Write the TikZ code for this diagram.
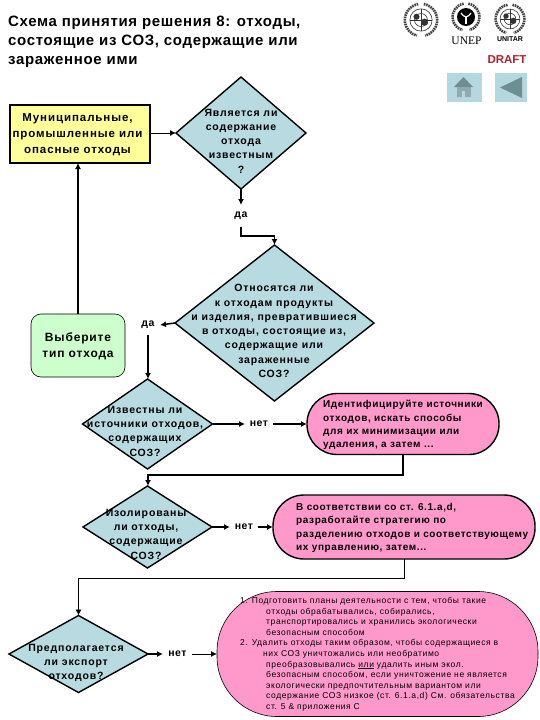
\documentclass[tikz,border=0pt]{standalone}
\usepackage{fontspec}
\setmainfont{Liberation Sans}
\newfontfamily\serifuni{Liberation Serif}
\usetikzlibrary{shapes.geometric,arrows.meta,calc}
\definecolor{decblue}{HTML}{B7DBE0}
\definecolor{boxyellow}{HTML}{FFFF99}
\definecolor{boxgreen}{HTML}{CCFFCC}
\definecolor{boxpink}{HTML}{FF99CC}
\definecolor{btnblue}{HTML}{B5D8DE}
\definecolor{btndark}{HTML}{6E8E94}
\definecolor{draftred}{HTML}{B02030}
\newcommand{\bsp}[3]{\fontsize{#1}{#2}\selectfont\bfseries\addfontfeature{LetterSpace=#3}}
\tikzset{
  decision/.style={diamond,draw=black,fill=decblue,line width=1.4pt,inner sep=0pt,outer sep=0pt},
  txt/.style={inner sep=0pt,align=center,font=\bsp{10.5}{14.3}{8}},
  pinkbox/.style={rectangle,draw=black,fill=boxpink,line width=1.4pt,inner sep=0pt,outer sep=0pt},
  pinktxt/.style={anchor=west,inner sep=0pt,align=left,font=\bsp{10}{13.3}{6}},
  lab/.style={inner sep=0pt,outer sep=0pt,font=\bsp{10.5}{11}{5}},
  conn/.style={line width=1.5pt,-{Latex[length=6pt,width=6pt]}},
  thinconn/.style={line width=0.9pt,-{Latex[length=6pt,width=6pt]}},
  wreath/.style={line width=2.6pt,dash pattern=on 1.6pt off 0.8pt,black!75},
  globe/.style={line width=0.6pt,black!80},
}
\newcommand{\emblem}[3]{%
  \draw[wreath] (#1,#2) ++(-80:#3*0.9) arc[start angle=-80,end angle=75,radius=#3*0.9];
  \draw[wreath] (#1,#2) ++(-100:#3*0.9) arc[start angle=-100,end angle=-255,radius=#3*0.9];
}
\newcommand{\unglobe}[3]{%
  \draw[globe] (#1,#2) circle (#3*0.62);
  \draw[globe] (#1,#2) circle (#3*0.36);
  \draw[globe] (#1-#3*0.62,#2) -- (#1+#3*0.62,#2);
  \draw[globe] (#1,#2-#3*0.62) -- (#1,#2+#3*0.62);
  \fill[black!80] (#1-#3*0.25,#2-#3*0.18) circle (#3*0.17);
  \fill[black!80] (#1+#3*0.2,#2+#3*0.12) circle (#3*0.2);
}
\begin{document}
\begin{tikzpicture}[x=1pt,y=-1pt]
\useasboundingbox (0,0) rectangle (540,720);

% title
\node[anchor=north west,inner sep=0pt,align=left,font=\bsp{15}{19}{4.5}] (title) at (8,15.5)
  {Схема принятия решения 8: отходы,\\состоящие из СОЗ, содержащие или\\зараженное ими};

% logos
\emblem{421}{20}{18}
\unglobe{421}{20}{18}
\emblem{466}{17}{15}
\fill[black] (466,17) circle (9);
\draw[white,line width=1.2pt] (461,13) .. controls (464,18) and (468,18) .. (471,13);
\draw[white,line width=1.2pt] (466,16) -- (466,24);
\node[inner sep=0pt,font=\fontsize{11.5}{12}\selectfont\serifuni] (unep) at (466.5,41) {UNEP};
\emblem{510}{19}{16}
\unglobe{510}{19}{16}
\node[inner sep=0pt,font=\fontsize{7}{7}\selectfont\bfseries] (unitar) at (510,39.5) {UNITAR};
\node[inner sep=0pt,text=draftred,font=\fontsize{11.5}{11}\selectfont\bfseries] (draft) at (507,60) {DRAFT};

% buttons
\fill[btnblue] (447,73) rectangle (482,102);
\fill[btndark] (454,87) -- (463.5,77) -- (473,87) -- cycle;
\fill[btndark!75] (457,87) rectangle (471,97);
\fill[btnblue] (462,91) rectangle (465,97);
\fill[btnblue] (495,73) rectangle (527,102);
\fill[btndark] (500,87.5) -- (522,77) -- (522,98) -- cycle;

% shapes
\node[draw=black,fill=boxyellow,line width=1.4pt,inner sep=0pt,outer sep=0pt,minimum width=140pt,minimum height=58pt] (waste) at (80,134) {};
\node[txt,font=\bsp{11.5}{16}{8}] (wastet) at (77.5,134.5) {Муниципальные,\\промышленные или\\опасные отходы};

\node[decision,minimum width=130pt,minimum height=112pt] (d1) at (241,133) {};
\node[txt] (d1t) at (241,141) {Является ли\\содержание\\отхода\\известным\\?};

\node[decision,minimum width=199pt,minimum height=156pt] (d2) at (274.5,323) {};
\node[txt] (d2t) at (274,331) {Относятся ли\\к отходам продукты\\и изделия, превратившиеся\\в отходы, состоящие из,\\содержащие или\\зараженные\\СОЗ?};

\node[draw=black,fill=boxgreen,line width=0.6pt,rounded corners=10pt,inner sep=0pt,outer sep=0pt,minimum width=94pt,minimum height=63pt] (choose) at (78,345.5) {};
\node[txt,font=\bsp{12}{16}{7}] (chooset) at (78,346.5) {Выберите\\тип отхода};

\node[decision,minimum width=130pt,minimum height=90pt] (d3) at (147.5,424) {};
\node[txt] (d3t) at (145,431) {Известны ли\\источники отходов,\\содержащих\\СОЗ?};

\node[pinkbox,rounded corners=30pt,minimum width=192pt,minimum height=61pt] (p1) at (403,424) {};
\node[pinktxt] (p1t) at (323,425) {Идентифицируйте источники\\отходов, искать способы\\для их минимизации или\\удаления, а затем ...};

\node[decision,minimum width=129pt,minimum height=82pt] (d4) at (147.5,527) {};
\node[txt] (d4t) at (146,534) {Изолированы\\ли отходы,\\содержащие\\СОЗ?};

\node[pinkbox,rounded corners=31pt,minimum width=262pt,minimum height=64pt] (p2) at (404,527) {};
\node[pinktxt] (p2t) at (296,528) {В соответствии со ст. 6.1.a,d,\\разработайте стратегию по\\разделению отходов и соответствующему\\их управлению, затем...};

\node[decision,minimum width=139pt,minimum height=77pt] (d5) at (78.5,654) {};
\node[txt] (d5t) at (76,663) {Предполагается\\ли экспорт\\отходов?};

\node[pinkbox,line width=0.6pt,rounded corners=60pt,minimum width=321pt,minimum height=125pt] (p3) at (377.5,654) {};
\node[anchor=north west,inner sep=0pt,align=left,font=\fontsize{8.5}{10.6}\selectfont\addfontfeature{LetterSpace=7}] (p3t) at (240,597)
 {1. Подготовить планы деятельности с тем, чтобы такие\\
 \hspace*{26pt}отходы обрабатывались, собирались,\\
 \hspace*{26pt}транспортировались и хранились экологически\\
 \hspace*{26pt}безопасным способом\\
 2. Удалить отходы таким образом, чтобы содержащиеся в\\
 \hspace*{23pt}них СОЗ уничтожались  или необратимо\\
 \hspace*{26pt}преобразовывались \underline{или} удалить иным экол.\\
 \hspace*{26pt}безопасным способом, если уничтожение не является\\
 \hspace*{26pt}экологически предпочтительным вариантом или\\
 \hspace*{26pt}содержание СОЗ низкое  (ст. 6.1.a,d) См. обязательства\\
 \hspace*{26pt}ст. 5 \& приложения С};

% labels
\node[lab,minimum width=20pt,minimum height=22pt] (da1) at (241,216) {да};
\node[lab,minimum width=24pt,minimum height=20pt] (da2) at (148,325) {да};
\node[lab,minimum width=28pt,minimum height=14pt] (net3) at (259,424) {нет};
\node[lab,minimum width=28pt,minimum height=14pt] (net4) at (244,527) {нет};
\node[lab,minimum width=29pt,minimum height=14pt] (net5) at (177.5,654) {нет};

\coordinate (c1) at (241,236);
\coordinate (c2) at (148,475);
\coordinate (c3) at (78.5,578);

% connectors
\draw[thinconn] (waste.east |- d1.west) -- (d1.west);
\draw[conn] (d1.south) -- (da1.north);
\draw[conn] (da1.south) -- (c1) -| (d2.north);
\draw[conn] (d2.west) -- (da2.east);
\draw[conn] (da2.south) -- (da2.south |- d3.north);
\draw[conn] (choose.north) -- (choose.north |- waste.south);
\draw[conn] (d3.east) -- (net3.west);
\draw[conn] (net3.east) -- (p1.west);
\draw[conn] (p1.south) |- (c2) -- (c2 |- d4.north);
\draw[conn] (d4.east) -- (net4.west);
\draw[conn] (net4.east) -- (p2.west);
\draw[thinconn] (p2.south) |- (c3) -- (d5.north);
\draw[conn] (d5.east) -- (net5.west);
\draw[thinconn] (net5.east) -- (p3.west);
\end{tikzpicture}
\end{document}
